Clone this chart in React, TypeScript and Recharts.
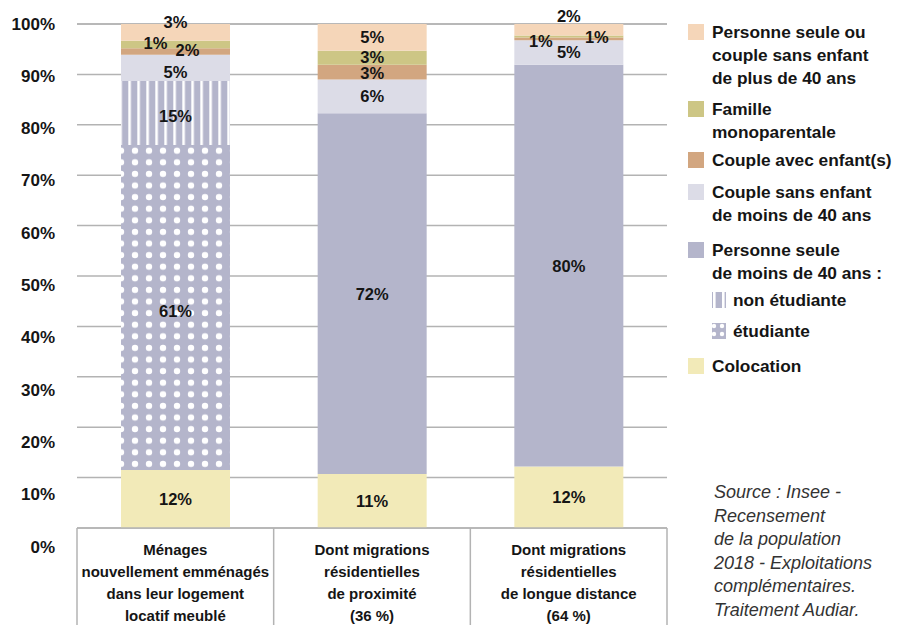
import React from 'react';
import { BarChart, Bar, XAxis, YAxis, CartesianGrid, LabelList } from 'recharts';

// categories (x axis, line breaks kept)
const categories = [
  'Ménages\nnouvellement emménagés\ndans leur logement\nlocatif meublé',
  'Dont migrations\nrésidentielles\nde proximité\n(36 %)',
  'Dont migrations\nrésidentielles\nde longue distance\n(64 %)',
];

// segment heights as drawn (%), bottom to top
const colocation = [11.5, 10.7, 12.2];
const etudiante = [64.5, 0, 0];
const nonEtudiante = [12.7, 0, 0];
const personneSeule = [0, 71.6, 79.7];
const coupleSans = [5.2, 6.7, 4.9];
const coupleAvec = [1.3, 2.9, 0.5];
const famille = [1.5, 2.8, 0.4];
const plus40 = [3.3, 5.3, 2.3];

// printed labels
const colocationLbl = ['12%', '11%', '12%'];
const etudianteLbl = ['61%', '', ''];
const nonEtudianteLbl = ['15%', '', ''];
const personneSeuleLbl = ['', '72%', '80%'];
const coupleSansLbl = ['5%', '6%', '5%'];
const coupleAvecLbl = ['2%', '3%', '1%'];
const familleLbl = ['1%', '3%', '1%'];
const plus40Lbl = ['3%', '5%', '2%'];

const yTicks = [0, 10, 20, 30, 40, 50, 60, 70, 80, 90, 100];

const data = categories.map((name, i) => ({
  name,
  idx: i,
  colocation: colocation[i],
  etudiante: etudiante[i],
  nonEtudiante: nonEtudiante[i],
  personneSeule: personneSeule[i],
  coupleSans: coupleSans[i],
  coupleAvec: coupleAvec[i],
  famille: famille[i],
  plus40: plus40[i],
}));

const LABELS: Record<string, string[]> = {
  colocation: colocationLbl,
  etudiante: etudianteLbl,
  nonEtudiante: nonEtudianteLbl,
  personneSeule: personneSeuleLbl,
  coupleSans: coupleSansLbl,
  coupleAvec: coupleAvecLbl,
  famille: familleLbl,
  plus40: plus40Lbl,
};

// hand placement of the small labels [dx, dy]
const NUDGE: Record<string, [number, number][]> = {
  plus40: [[0, -10], [0, 0], [0, -14]],
  famille: [[-20, -1], [0, -1], [28, 0]],
  coupleAvec: [[12, -1], [0, 1], [-28, 2]],
  coupleSans: [[0, 4], [0, 0], [0, 0]],
  nonEtudiante: [[0, 3], [0, 0], [0, 0]],
  etudiante: [[0, 3], [0, 0], [0, 0]],
};

const C = {
  plus40: '#f5d6b9',
  famille: '#cdc685',
  coupleAvec: '#d2a680',
  coupleSans: '#dcdce7',
  personneSeule: '#b4b5cb',
  colocation: '#f2eab8',
  grid: '#b3b3b3',
  text: '#151515',
};

const FONT = "'Liberation Sans', Arial, sans-serif";
const W = 903;
const H = 625;
const M = { top: 24, right: 236, bottom: 0, left: 0 };
const Y_W = 77;
const X_H = 97;
const PLOT_W = W - M.left - M.right - Y_W;
const PLOT_BOTTOM = H - X_H;

// the LabelList value is the category index (zero-height segments shift props.index)
const segLabel = (key: string) => (p: any) => {
  const { x, y, width, height, value } = p;
  const i = Number(value);
  const txt = LABELS[key][i];
  if (!txt) return null;
  const [dx, dy] = NUDGE[key]?.[i] ?? [0, 0];
  return (
    <text x={x + width / 2 + dx} y={y + height / 2 + dy} textAnchor="middle" dominantBaseline="central"
      fontSize={16.5} fontWeight="bold" fontFamily={FONT} fill={C.text}>
      {txt}
    </text>
  );
};

const YTick = ({ y, payload }: any) => {
  // printed labels are spaced a little wider than the grid
  const yy = M.top + (y - M.top) * 1.038;
  return (
    <text x={55} y={yy} textAnchor="end" dominantBaseline="central" fontSize={17} fontWeight="bold"
      fontFamily={FONT} fill={C.text}>
      {payload.value}%
    </text>
  );
};

const XTick = ({ x, payload, index }: any) => {
  const band = PLOT_W / categories.length;
  const lines = String(payload.value).split('\n');
  return (
    <g>
      <line x1={x - band / 2} x2={x - band / 2} y1={PLOT_BOTTOM} y2={H} stroke={C.grid} strokeWidth={1.5} />
      {index === categories.length - 1 && (
        <line x1={x + band / 2} x2={x + band / 2} y1={PLOT_BOTTOM} y2={H} stroke={C.grid} strokeWidth={1.5} />
      )}
      {lines.map((l, i) => (
        <text key={i} x={x} y={PLOT_BOTTOM + 21 + i * 22} textAnchor="middle" dominantBaseline="central"
          fontSize={15} fontWeight="bold" fontFamily={FONT} fill={C.text}>
          {l}
        </text>
      ))}
    </g>
  );
};

const Stripes = ({ id, x = 0 }: { id: string; x?: number }) => (
  <pattern id={id} patternUnits="userSpaceOnUse" width={9} height={10} x={x}>
    <rect width={9} height={10} fill={C.personneSeule} />
    <rect width={2.6} height={10} fill="#fff" />
  </pattern>
);

const Dots = ({ id, x = 0, y = 0, w = 14, h = 11.6, r = 3.2 }:
  { id: string; x?: number; y?: number; w?: number; h?: number; r?: number }) => (
  <pattern id={id} patternUnits="userSpaceOnUse" width={w} height={h} x={x} y={y}>
    <rect width={w} height={h} fill={C.personneSeule} />
    <circle cx={w / 2} cy={h / 2} r={r} fill="#fff" />
  </pattern>
);

const legendItems = [
  { top: 20.5, lines: ['Personne seule ou', 'couple sans enfant', 'de plus de 40 ans'], fill: C.plus40 },
  { top: 97.5, lines: ['Famille', 'monoparentale'], fill: C.famille },
  { top: 148.5, lines: ['Couple avec enfant(s)'], fill: C.coupleAvec },
  { top: 180.5, lines: ['Couple sans enfant', 'de moins de 40 ans'], fill: C.coupleSans },
  { top: 238.5, lines: ['Personne seule', 'de moins de 40 ans :'], fill: C.personneSeule },
  { top: 288.5, lines: ['non étudiante'], fill: 'url(#lgStripes)', sub: true },
  { top: 319.5, lines: ['étudiante'], fill: 'url(#lgDots)', sub: true },
  { top: 354.5, lines: ['Colocation'], fill: C.colocation },
];

const source = [
  'Source : Insee -',
  'Recensement',
  'de la population',
  '2018 - Exploitations',
  'complémentaires.',
  'Traitement Audiar.',
];

function Legend() {
  return (
    <div style={{ position: 'absolute', left: 688, top: 0, width: 215, fontFamily: FONT, color: C.text }}>
      <svg width={0} height={0} style={{ position: 'absolute' }}>
        <defs>
          <Stripes id="lgStripes" x={1} />
          <Dots id="lgDots" x={-2} y={-1} w={8} h={8} r={2.2} />
        </defs>
      </svg>
      {legendItems.map((it) => (
        <div key={it.lines[0]} style={{ position: 'absolute', top: it.top, left: 0, width: 215 }}>
          <svg width={it.sub ? 14 : 16} height={16} style={{ position: 'absolute', left: it.sub ? 24 : 0, top: 3.5 }}>
            <rect width={it.sub ? 14 : 16} height={16} fill={it.fill} />
          </svg>
          <div style={{ marginLeft: it.sub ? 45 : 24, fontSize: 17.3, fontWeight: 'bold', lineHeight: '23px',
            whiteSpace: 'nowrap' }}>
            {it.lines.map((l) => <div key={l}>{l}</div>)}
          </div>
        </div>
      ))}
    </div>
  );
}

const KEYS = ['colocation', 'etudiante', 'nonEtudiante', 'personneSeule', 'coupleSans', 'coupleAvec', 'famille', 'plus40'];
const FILLS: Record<string, string> = {
  colocation: C.colocation,
  etudiante: 'url(#dots)',
  nonEtudiante: 'url(#stripes)',
  personneSeule: C.personneSeule,
  coupleSans: C.coupleSans,
  coupleAvec: C.coupleAvec,
  famille: C.famille,
  plus40: C.plus40,
};

export default function App() {
  return (
    <div style={{ position: 'absolute', left: 0, top: 0, width: W, height: H, background: '#fff' }}>
      <BarChart width={W} height={H} data={data} margin={M} barSize={109}>
        <defs>
          <Stripes id="stripes" x={128.3} />
          <Dots id="dots" x={114} y={144.9} />
        </defs>
        <CartesianGrid vertical={false} stroke={C.grid} strokeWidth={1.5} />
        <XAxis dataKey="name" height={X_H} interval={0} tickLine={false}
          axisLine={{ stroke: C.grid, strokeWidth: 1.5 }} tick={<XTick />} />
        <YAxis width={Y_W} domain={[0, 100]} ticks={yTicks} interval={0} axisLine={false} tickLine={false}
          tick={<YTick />} />
        {KEYS.map((k) => (
          <Bar key={k} dataKey={k} stackId="a" fill={FILLS[k]} isAnimationActive={false}>
            <LabelList dataKey={(d: any) => String(d.idx)} content={segLabel(k)} />
          </Bar>
        ))}
      </BarChart>
      <Legend />
      <div style={{ position: 'absolute', left: 714, top: 481, fontFamily: FONT, fontStyle: 'italic',
        fontSize: 18, lineHeight: '23.5px', color: '#333', whiteSpace: 'nowrap' }}>
        {source.map((l) => <div key={l}>{l}</div>)}
      </div>
    </div>
  );
}
